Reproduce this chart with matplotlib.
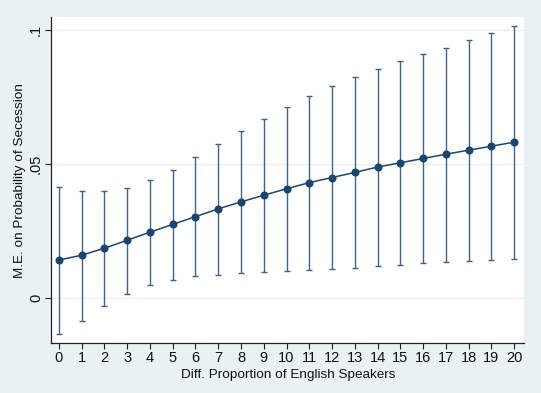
import numpy as np
import matplotlib.pyplot as plt

# values
diff_prop = list(range(21))
me = [0.0141, 0.0159, 0.0185, 0.0215, 0.0245, 0.0274, 0.0303, 0.0332, 0.0358, 0.0383,
      0.0407, 0.0430, 0.0449, 0.0468, 0.0488, 0.0504, 0.0520, 0.0536, 0.0551, 0.0566, 0.0581]
ci_upper = [0.0413, 0.0400, 0.0398, 0.0409, 0.0439, 0.0478, 0.0525, 0.0573, 0.0622, 0.0669,
            0.0713, 0.0754, 0.0790, 0.0823, 0.0853, 0.0882, 0.0909, 0.0934, 0.0961, 0.0988, 0.1016]
ci_lower = [-0.0134, -0.0085, -0.0030, 0.0015, 0.0047, 0.0067, 0.0080, 0.0086, 0.0092, 0.0097,
            0.0101, 0.0104, 0.0107, 0.0113, 0.0117, 0.0122, 0.0129, 0.0134, 0.0138, 0.0141, 0.0144]
yticks = [0, 0.05, 0.1]
ytick_labels = ['0', '.05', '.1']

plt.rcParams['font.family'] = ['Liberation Sans', 'DejaVu Sans']

bg = '#eaf1f3'
navy = '#1a476f'

fig = plt.figure(figsize=(5.41, 3.93), dpi=100, facecolor=bg)
ax = fig.add_axes([0.095, 0.127, 0.874, 0.829])
ax.set_facecolor('white')

x = np.array(diff_prop)
y = np.array(me)
lo = y - np.array(ci_lower)
hi = np.array(ci_upper) - y

# horizontal grid lines
for t in yticks:
    ax.axhline(t, color='#eaf0f2', lw=1.0, zorder=0)

ax.errorbar(x, y, yerr=[lo, hi], fmt='none', ecolor='#3f6286', elinewidth=1.0,
            capsize=2.3, capthick=1.0, zorder=2)
ax.plot(x, y, color=navy, lw=1.1, marker='o', ms=4.8, mfc=navy, mec=navy, zorder=3)

ax.set_xlim(-0.33, 20.44)
ax.set_ylim(-0.0169, 0.1047)
ax.set_xticks(diff_prop)
ax.set_yticks(yticks)
ax.set_yticklabels(ytick_labels, rotation=90, va='center')

for s in ['top', 'right']:
    ax.spines[s].set_visible(False)
for s in ['left', 'bottom']:
    ax.spines[s].set_color('#222222')
    ax.spines[s].set_linewidth(0.9)

ax.tick_params(axis='both', length=4, width=0.8, color='#222222', labelsize=10.5,
               labelcolor='#111111', pad=2)

ax.set_xlabel('Diff. Proportion of English Speakers', fontsize=9.7, color='#111111', labelpad=2.5)
ax.set_ylabel('M.E. on Probability of Secession', fontsize=9.7, color='#111111', labelpad=2)

fig.savefig('out.png', dpi=100, facecolor=bg)
